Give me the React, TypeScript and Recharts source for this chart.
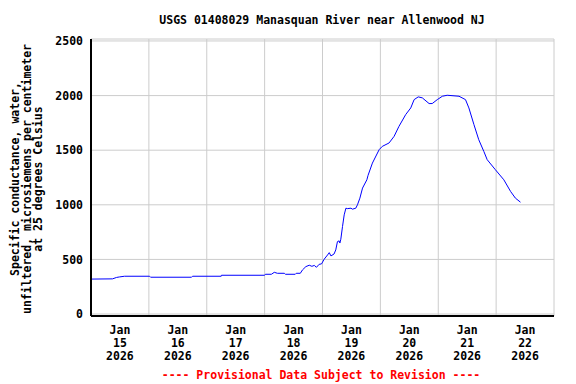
import React from 'react';
import { LineChart, Line, XAxis, YAxis, CartesianGrid } from 'recharts';

// hours since Jan 15 2026 00:00
const hours = [
  0, 8.9, 10.6, 11.9, 13.9, 24.3, 24.7, 41.7, 42.1, 54, 54.1, 72, 72.3, 74.8, 76, 77.3, 80.2, 80.6,
  84.7, 85.1, 86.8, 87.7, 89.1, 90.5, 91.6, 92.6, 93.5, 94.6, 95.6, 96.7, 98.1, 98.8, 99.5, 100.8,
  101.5, 102.2, 102.9, 103.2, 103.6, 104.3, 105, 105.7, 106.3, 107.8, 108.4, 109.8, 110.5, 111.5,
  112.6, 114.4, 114.9, 116.7, 119.5, 120.8, 123.6, 125.7, 127.7, 130.5, 132.6, 134, 135.7, 137.4,
  140.2, 141.5, 143.6, 145.7, 147.7, 152.6, 155.3, 156.7, 158.8, 160.8, 162.9, 164.3, 167.7, 171.2,
  174, 176, 178.1,
];

// specific conductance, uS/cm at 25 C
const conductance = [
  320, 322, 335, 340, 346, 346, 337, 337, 346, 346, 355, 355, 364, 364, 382, 373, 373, 364,
  364, 373, 373, 404, 434, 447, 437, 445, 428, 455, 459, 502, 541, 562, 532, 550,
  587, 663, 670, 650, 685, 801, 908, 969, 965, 969, 960, 969, 1000, 1061,
  1153, 1229, 1270, 1382, 1505, 1535, 1566, 1627, 1718, 1826, 1887, 1963, 1988, 1979,
  1927, 1927, 1963, 1994, 2003, 1994, 1963, 1887, 1734, 1596, 1489, 1413, 1321, 1229,
  1122, 1061, 1024,
];

const dayLabels = ['15', '16', '17', '18', '19', '20', '21', '22'];
const yearLabel = '2026';
const monthLabel = 'Jan';
const midnightTicks = [0, 24, 48, 72, 96, 120, 144, 168, 192];
const noonTicks = [12, 36, 60, 84, 108, 132, 156, 180];
const yTicks = [0, 500, 1000, 1500, 2000, 2500];

const axisTitle = [
  'Specific conductance, water,',
  'unfiltered, microsiemens per centimeter',
  'at 25 degrees Celsius',
];

const data = hours.map((h, i) => ({ h, v: conductance[i] }));

const FONT = '"DejaVu Sans Mono", monospace';

function DayTick(props: any) {
  const { x, y, payload } = props;
  const i = noonTicks.indexOf(payload.value);
  return (
    <text x={x} y={y} textAnchor="middle" fontFamily={FONT} fontWeight="bold" fontSize={11.5} fill="#000">
      <tspan x={x} dy={18}>{monthLabel}</tspan>
      <tspan x={x} dy={13}>{dayLabels[i]}</tspan>
      <tspan x={x} dy={13}>{yearLabel}</tspan>
    </text>
  );
}

const NoTick = () => <g />;

function YTitle() {
  const cx = 19;
  const cy = 179;
  return (
    <text
      x={cx}
      y={cy}
      transform={`rotate(-90, ${cx}, ${cy})`}
      textAnchor="middle"
      fontFamily={FONT}
      fontWeight="bold"
      fontSize={11.5}
      fill="#000"
    >
      {axisTitle.map((line, i) => (
        <tspan key={i} x={cx} dy={i === 0 ? 0 : 11.5}>{line}</tspan>
      ))}
    </text>
  );
}

export default function App() {
  return (
    <div style={{ position: 'absolute', left: 0, top: 0, width: 576, height: 384, background: '#fff' }}>
      <div
        style={{
          position: 'absolute', left: 0, width: 644, top: 13, lineHeight: '14px',
          textAlign: 'center', fontFamily: FONT, fontWeight: 'bold', fontSize: 11.5, color: '#000',
        }}
      >
        USGS 01408029 Manasquan River near Allenwood NJ
      </div>
      <LineChart
        width={576}
        height={384}
        data={data}
        margin={{ top: 39, right: 22, bottom: 18, left: 31 }}
      >
        <CartesianGrid xAxisId="grid" yAxisId="left" stroke="#cccccc" strokeWidth={1} />
        <XAxis
          xAxisId="grid"
          orientation="top"
          type="number"
          dataKey="h"
          domain={[0, 192]}
          ticks={midnightTicks}
          interval={0}
          tick={<NoTick />}
          tickLine={false}
          height={0}
          axisLine={{ stroke: '#000', strokeWidth: 2 }}
        />
        <XAxis
          xAxisId="labels"
          orientation="bottom"
          type="number"
          dataKey="h"
          domain={[0, 192]}
          ticks={noonTicks}
          tick={<DayTick />}
          tickLine={false}
          tickSize={0}
          tickMargin={0}
          height={50}
          interval={0}
          axisLine={{ stroke: '#000', strokeWidth: 2 }}
        />
        <YAxis
          yAxisId="left"
          type="number"
          domain={[-18, 2518]}
          ticks={yTicks}
          width={60}
          tickLine={false}
          tickSize={0}
          tickMargin={8}
          interval={0}
          tick={{ fontFamily: FONT, fontWeight: 'bold', fontSize: 11.5, fill: '#000' }}
          axisLine={{ stroke: '#000', strokeWidth: 2 }}
          label={<YTitle />}
        />
        <YAxis
          yAxisId="right"
          orientation="right"
          type="number"
          domain={[-18, 2518]}
          width={0}
          tick={false}
          tickLine={false}
          axisLine={{ stroke: '#000', strokeWidth: 2 }}
        />
        <Line
          xAxisId="grid"
          yAxisId="left"
          type="linear"
          dataKey="v"
          stroke="#0000ff"
          strokeWidth={1}
          dot={false}
          isAnimationActive={false}
        />
      </LineChart>
      <div
        style={{
          position: 'absolute', left: 0, width: 642, top: 368, lineHeight: '14px',
          textAlign: 'center', fontFamily: FONT, fontWeight: 'bold', fontSize: 11.5, color: '#ff0000',
        }}
      >
        ---- Provisional Data Subject to Revision ----
      </div>
    </div>
  );
}
